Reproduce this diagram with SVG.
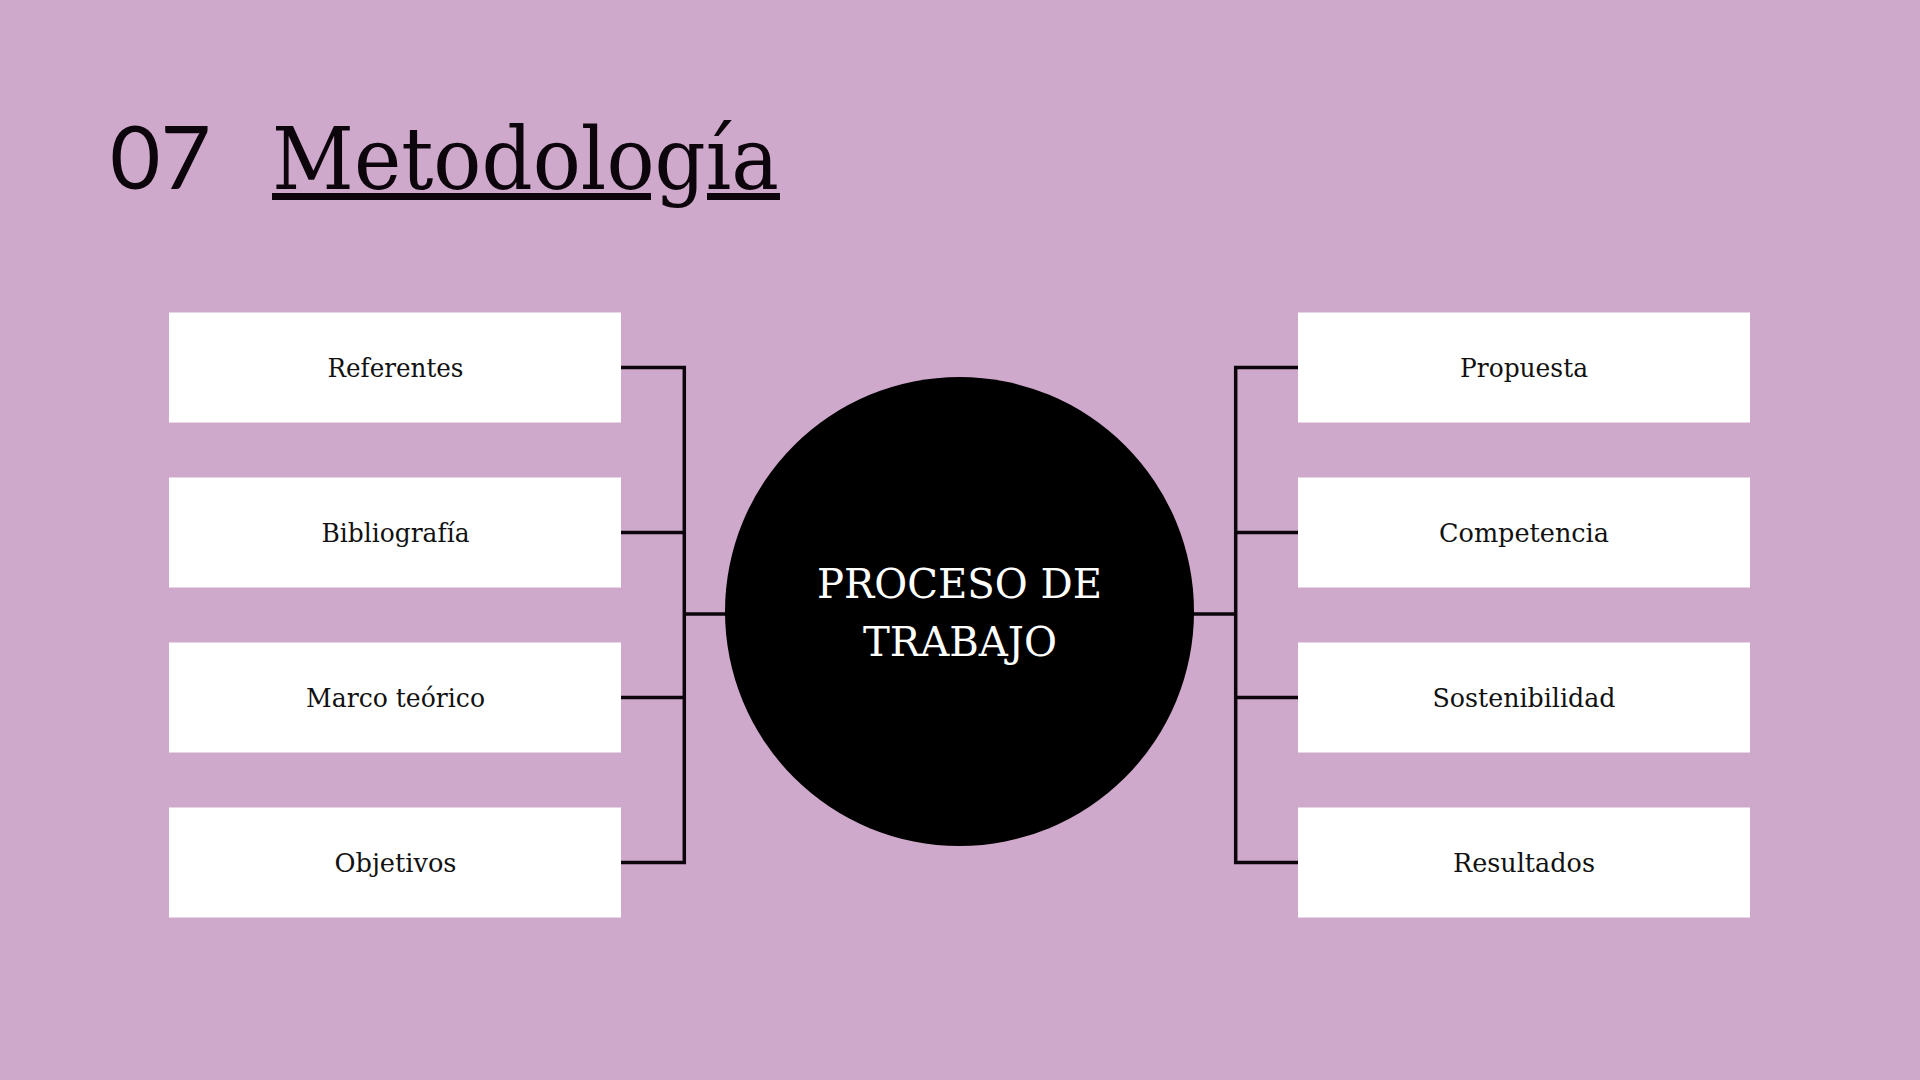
<svg xmlns="http://www.w3.org/2000/svg" width="1920" height="1080" viewBox="0 0 1920 1080">
  <style>
    .box { fill: #ffffff; }
    .lbl { font-family: "DejaVu Serif", "Liberation Serif", serif; font-size: 26px; fill: #111111; text-anchor: middle; }
    .conn { stroke: #0d050c; stroke-width: 3.5; fill: none; stroke-linecap: square; }
    .ctext { font-family: "DejaVu Serif", "Liberation Serif", serif; font-size: 41px; fill: #ffffff; text-anchor: middle; }
  </style>
  <rect x="0" y="0" width="1920" height="1080" fill="#cfa9cb"/>

  <g id="title">
    <text x="110" y="189" font-family="Lato, 'Liberation Sans', sans-serif" font-size="88" fill="#0d050c" textLength="101" lengthAdjust="spacingAndGlyphs">07</text>
    <text x="272" y="189" font-family="'DejaVu Serif', 'Liberation Serif', serif" font-size="86" fill="#0d050c" textLength="507" lengthAdjust="spacingAndGlyphs">Metodología</text>
    <rect x="272" y="193" width="379" height="7" fill="#0d050c"/>
    <rect x="707" y="193" width="73" height="7" fill="#0d050c"/>
  </g>

  <g id="connectors">
    <path class="conn" d="M621 367.5 H684.3 M621 532.5 H684.3 M621 697.5 H684.3 M621 862.5 H684.3 M684.3 367.5 V862.5 M684.3 614 H726"/>
    <path class="conn" d="M1298 367.5 H1235.7 M1298 532.5 H1235.7 M1298 697.5 H1235.7 M1298 862.5 H1235.7 M1235.7 367.5 V862.5 M1235.7 614 H1193"/>
  </g>

  <g id="node-referentes">
    <rect class="box" x="169" y="312.5" width="452" height="110"/>
    <text class="lbl" x="395.5" y="377" textLength="136" lengthAdjust="spacingAndGlyphs">Referentes</text>
  </g>
  <g id="node-bibliografia">
    <rect class="box" x="169" y="477.5" width="452" height="110"/>
    <text class="lbl" x="395.5" y="542" textLength="148" lengthAdjust="spacingAndGlyphs">Bibliografía</text>
  </g>
  <g id="node-marco">
    <rect class="box" x="169" y="642.5" width="452" height="110"/>
    <text class="lbl" x="395.5" y="707" textLength="179" lengthAdjust="spacingAndGlyphs">Marco teórico</text>
  </g>
  <g id="node-objetivos">
    <rect class="box" x="169" y="807.5" width="452" height="110"/>
    <text class="lbl" x="395.5" y="872" textLength="122" lengthAdjust="spacingAndGlyphs">Objetivos</text>
  </g>

  <g id="node-propuesta">
    <rect class="box" x="1298" y="312.5" width="452" height="110"/>
    <text class="lbl" x="1524" y="377" textLength="128" lengthAdjust="spacingAndGlyphs">Propuesta</text>
  </g>
  <g id="node-competencia">
    <rect class="box" x="1298" y="477.5" width="452" height="110"/>
    <text class="lbl" x="1524" y="542" textLength="170" lengthAdjust="spacingAndGlyphs">Competencia</text>
  </g>
  <g id="node-sostenibilidad">
    <rect class="box" x="1298" y="642.5" width="452" height="110"/>
    <text class="lbl" x="1524" y="707" textLength="183" lengthAdjust="spacingAndGlyphs">Sostenibilidad</text>
  </g>
  <g id="node-resultados">
    <rect class="box" x="1298" y="807.5" width="452" height="110"/>
    <text class="lbl" x="1524" y="872" textLength="142" lengthAdjust="spacingAndGlyphs">Resultados</text>
  </g>

  <g id="node-center">
    <circle cx="959.5" cy="611.5" r="234.5" fill="#000000"/>
    <text class="ctext" x="959.5" y="598" textLength="285" lengthAdjust="spacingAndGlyphs">PROCESO DE</text>
    <text class="ctext" x="960" y="656" textLength="194" lengthAdjust="spacingAndGlyphs">TRABAJO</text>
  </g>
</svg>
